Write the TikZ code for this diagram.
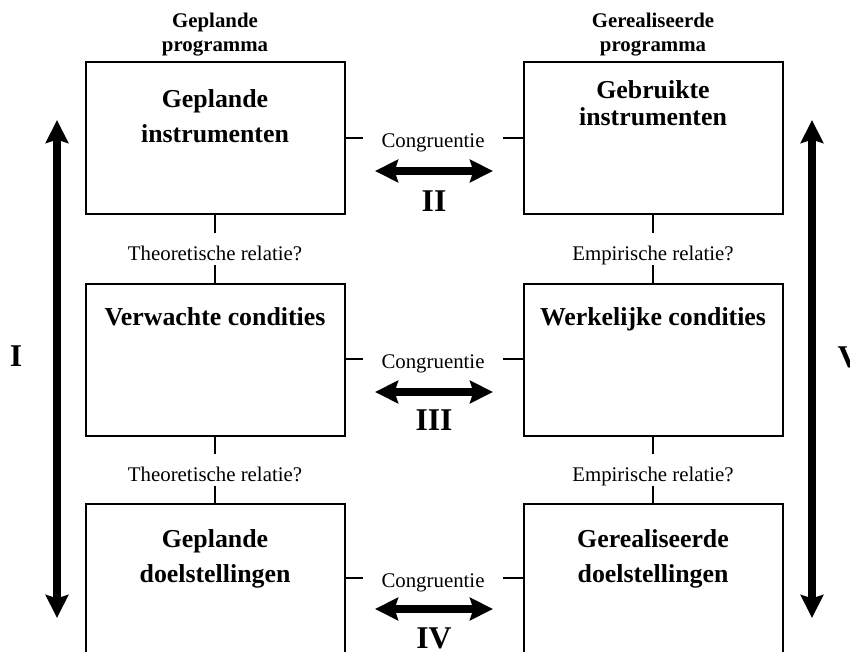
\documentclass[tikz,border=0pt]{standalone}
\usepackage{fontspec}
\setmainfont{Liberation Serif}
\usetikzlibrary{arrows.meta,positioning}
\tikzset{
  every picture/.style={font=\rmfamily},
  prog box/.style={draw=black, line width=1.2pt, minimum width=155.4pt,
    minimum height=91.2pt, inner sep=0pt},
  prog title/.style={font=\fontsize{15.5}{21}\selectfont\bfseries,
    align=center, anchor=north, inner sep=0pt},
  prog head/.style={font=\fontsize{12.5}{14.4}\selectfont\bfseries,
    align=center, anchor=south, inner sep=0pt},
  rel label/.style={font=\fontsize{12.5}{14}\selectfont, inner xsep=2pt,
    inner ysep=2.4pt, text height=14.4pt, text depth=0pt},
  cong label/.style={font=\fontsize{12.5}{14}\selectfont, inner xsep=11pt,
    inner ysep=0pt, text height=14pt, text depth=2pt},
  numeral/.style={font=\fontsize{19}{22}\selectfont\bfseries, inner sep=0pt},
  link/.style={draw=black, line width=0.9pt},
  big arrow/.style={{Stealth[length=13.8pt,width=13.5pt,inset=2pt]}-{Stealth[length=13.8pt,width=13.5pt,inset=2pt]},
    draw=black, line width=4.5pt}
}
\begin{document}
\begin{tikzpicture}[x=0.6pt,y=0.6pt]
  \useasboundingbox (0,0) rectangle (850,652);
  \clip (0,0) rectangle (850,652);
  % boxes, planned left and realised right
  \node[prog box] (gi) at (215,514) {};
  \node[prog box] (gb) at (653,514) {};
  \node[prog box] (vc) at (215,292) {};
  \node[prog box] (wc) at (653,292) {};
  \node[prog box] (gd) at (215,72) {};
  \node[prog box] (rd) at (653,72) {};
  \node[prog title] (gi t) at ([yshift=-16.8pt]gi.north) {Geplande\\instrumenten};
  \node[prog title] (gb t) at ([yshift=-11.7pt]gb.north) {Gebruikte\\[-4.8pt]instrumenten};
  \node[prog title] (vc t) at ([yshift=-14.4pt]vc.north) {Verwachte condities};
  \node[prog title] (wc t) at ([yshift=-14.4pt]wc.north) {Werkelijke condities};
  \node[prog title] (gd t) at ([yshift=-15.6pt]gd.north) {Geplande\\doelstellingen};
  \node[prog title] (rd t) at ([yshift=-15.6pt]rd.north) {Gerealiseerde\\doelstellingen};
  \node[prog head] (gp) at ([yshift=3pt]gi.north) {Geplande\\programma};
  \node[prog head] (rp) at ([yshift=3pt]gb.north) {Gerealiseerde\\programma};

  % relations between the rows
  \node[rel label] (tr1) at (215,403) {Theoretische relatie?};
  \node[rel label] (er1) at (653,403) {Empirische relatie?};
  \node[rel label] (tr2) at (215,182) {Theoretische relatie?};
  \node[rel label] (er2) at (653,182) {Empirische relatie?};
  \draw[link] (gi.south) -- (tr1.north) (tr1.south) -- (vc.north);
  \draw[link] (vc.south) -- (tr2.north) (tr2.south) -- (gd.north);
  \draw[link] (gb.south) -- (er1.north) (er1.south) -- (wc.north);
  \draw[link] (wc.south) -- (er2.north) (er2.south) -- (rd.north);

  % congruence between the columns
  \node[cong label] (c2) at (433,514) {Congruentie};
  \node[cong label] (c3) at (433,293) {Congruentie};
  \node[cong label] (c4) at (433,74) {Congruentie};
  \draw[link] (gi.east) -- (c2.west) (c2.east) -- (gb.west);
  \draw[link] (c3.west -| vc.east) -- (c3.west) (c3.east) -- (c3.east -| wc.west);
  \draw[link] (c4.west -| gd.east) -- (c4.west) (c4.east) -- (c4.east -| rd.west);
  \coordinate (a2l) at (375,481);
  \coordinate (a2r) at (493,481);
  \coordinate (a3l) at (375,260);
  \coordinate (a3r) at (493,260);
  \coordinate (a4l) at (375,43);
  \coordinate (a4r) at (493,43);
  \draw[big arrow] (a2l) -- (a2r);
  \draw[big arrow] (a3l) -- (a3r);
  \draw[big arrow] (a4l) -- (a4r);
  \node[numeral] (n2) at (434,451) {II};
  \node[numeral] (n3) at (434,232) {III};
  \node[numeral] (n4) at (434,14) {IV};

  % the two columns as a whole
  \coordinate (pl top) at (57,532);
  \coordinate (pl bot) at (57,34);
  \coordinate (re top) at (812,532);
  \coordinate (re bot) at (812,34);
  \draw[big arrow] (pl top) -- (pl bot);
  \draw[big arrow] (re top) -- (re bot);
  \node[numeral] (n1) at (16,296) {I};
  \node[numeral] (n5) at (849,295) {V};
\end{tikzpicture}
\end{document}
